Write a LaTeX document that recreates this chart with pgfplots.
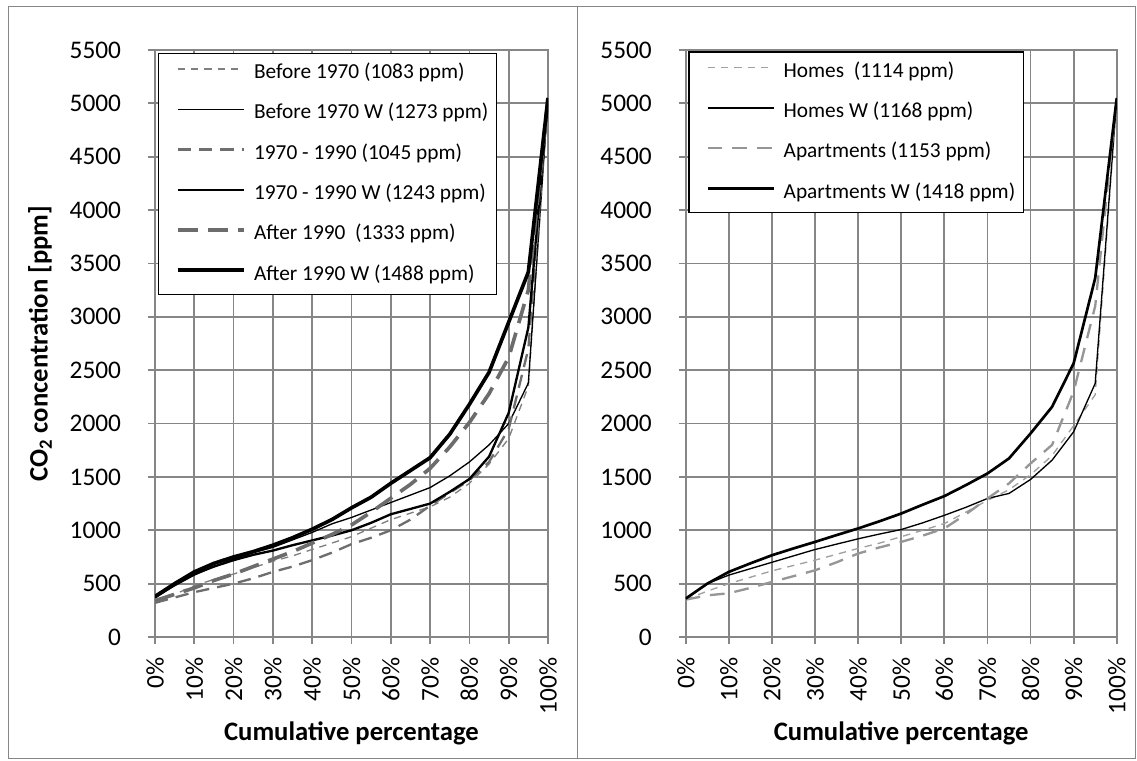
\documentclass[border=0pt]{standalone}
\usepackage{fontspec}
\setmainfont{Carlito}
\usepackage{pgfplots}
\usepackage{pgfplotstable}
\pgfplotsset{compat=1.18}

\definecolor{gridgray}{RGB}{134,134,134}
\definecolor{dashA}{RGB}{128,128,128}
\definecolor{dashB}{RGB}{110,110,110}
\definecolor{dashC}{RGB}{108,108,108}
\definecolor{dashH}{RGB}{160,160,160}
\definecolor{dashP}{RGB}{150,150,150}

% cumulative distributions, values in ppm at every 5 %
\pgfplotstableread{
p   b70   b70w  m70   m70w  a90   a90w
0   330   370   320   370   340   380
5   400   480   370   490   400   500
10  480   580   420   590   460   610
15  540   660   460   660   530   690
20  590   730   500   720   590   750
25  650   790   550   770   660   800
30  710   840   610   810   730   860
35  760   910   660   860   800   930
40  820   980   720   905   880   1010
45  880   1060  790   950   960   1100
50  940   1120  870   1000  1050  1210
55  1020  1190  930   1070  1170  1310
60  1100  1260  1000  1150  1300  1440
65  1160  1330  1100  1200  1430  1560
70  1220  1400  1230  1250  1580  1680
75  1310  1510  1350  1360  1780  1900
80  1440  1640  1470  1480  2010  2180
85  1620  1800  1640  1690  2280  2480
90  1860  2000  1950  2100  2620  2950
95  2350  2380  2700  2900  3250  3420
100 5050  5050  5050  5050  5050  5050
}\agetable

\pgfplotstableread{
p   h     hw    ap    apw
0   350   360   350   360
5   430   500   390   500
10  500   580   410   610
15  560   640   460   690
20  620   700   516   766
25  670   760   570   830
30  720   820   625   891
35  775   870   700   955
40  830   920   782   1017
45  880   965   840   1085
50  940   1007  891   1157
55  1000  1070  950   1240
60  1063  1140  1017  1320
65  1170  1215  1150  1423
70  1280  1298  1298  1532
75  1380  1345  1439  1673
80  1520  1476  1626  1907
85  1700  1657  1800  2157
90  1980  1923  2300  2564
95  2270  2376  3100  3362
100 5050  5050  5050  5050
}\typetable

\pgfplotsset{
  co2/.style={
    scale only axis,
    height=440.25pt,
    xmin=0, xmax=100, ymin=0, ymax=5500,
    xtick={0,10,...,100}, ytick={0,500,...,5500},
    xticklabel={\pgfmathprintnumber{\tick}\%},
    /pgf/number format/assume math mode=true,
    /pgf/number format/1000 sep={},
    grid=major,
    grid style={gridgray, line width=1.3pt},
    axis line style={gridgray, line width=1.3pt},
    tick style={gridgray, line width=1.3pt},
    tick align=outside, major tick length=5.25pt, tick pos=left,
    ticklabel style={font=\fontsize{19}{19}\selectfont},
    yticklabel style={anchor=east, inner sep=0pt, xshift=-20pt},
    xticklabel style={yshift=-10pt, rotate=90, anchor=east, inner sep=0pt},
    label style={font=\fontsize{20}{20}\selectfont\bfseries},
    xlabel={Cumulative percentage},
    legend cell align=left,
    legend image code/.code={\path (0pt,0pt); \draw[##1] (7pt,0.33em) -- (57pt,0.33em);},
    legend style={anchor=north west, draw=black, line width=1pt, fill=white,
      font=\fontsize{16}{16}\selectfont,
      inner xsep=6pt, inner ysep=7.5pt, row sep=15.2pt,
      nodes={inner sep=0pt, text height=11.5pt, text depth=3.5pt},
      /tikz/every odd column/.style={column sep=6pt}},
  }
}

\begin{document}
\begin{tikzpicture}
\path[use as bounding box] (0pt,0pt) rectangle (852.75pt,570pt);
\draw[gridgray, line width=0.75pt] (6pt,1.5pt) rectangle (432.75pt,564.75pt);
\draw[gridgray, line width=0.75pt] (432.75pt,1.5pt) rectangle (851.25pt,564.75pt);

% left: by construction year
\begin{axis}[co2,
  at={(116.25pt,92.25pt)}, anchor=south west,
  width=294.75pt,
  ylabel={CO\textsubscript{2} concentration [ppm]},
  ylabel style={at={(axis description cs:-0.2926,0.5)}, anchor=center},
  xlabel style={at={(axis description cs:0.5,-0.1635)}, anchor=center},
  legend style={at={(axis description cs:0.007,0.9954)}},
]
\addplot[dashA, line width=1pt, dash pattern=on 5.5pt off 4.5pt] table[x=p,y=b70]{\agetable};
\addlegendentry{Before 1970 (1083 ppm)}
\addplot[black, line width=1pt] table[x=p,y=b70w]{\agetable};
\addlegendentry{Before 1970 W (1273 ppm)}
\addplot[dashB, line width=1.75pt, dash pattern=on 10pt off 6pt] table[x=p,y=m70]{\agetable};
\addlegendentry{1970 - 1990 (1045 ppm)}
\addplot[black, line width=1.75pt] table[x=p,y=m70w]{\agetable};
\addlegendentry{1970 - 1990 W (1243 ppm)}
\addplot[dashC, line width=2.75pt, dash pattern=on 15pt off 7.5pt] table[x=p,y=a90]{\agetable};
\addlegendentry{After 1990\ \ (1333 ppm)}
\addplot[black, line width=2.75pt] table[x=p,y=a90w]{\agetable};
\addlegendentry{After 1990 W (1488 ppm)}
\end{axis}

% right: by building type
\begin{axis}[co2,
  at={(514.3pt,92.25pt)}, anchor=south west,
  width=323.25pt,
  xlabel style={at={(axis description cs:0.5,-0.1635)}, anchor=center},
  legend style={at={(axis description cs:0.006,0.9977)}},
]
\addplot[dashH, line width=1pt, dash pattern=on 5.5pt off 4.5pt] table[x=p,y=h]{\typetable};
\addlegendentry{Homes\ \ (1114 ppm)}
\addplot[black, line width=1pt] table[x=p,y=hw]{\typetable};
\addlegendentry{Homes W (1168 ppm)}
\addplot[dashP, line width=1.75pt, dash pattern=on 11pt off 7.5pt] table[x=p,y=ap]{\typetable};
\addlegendentry{Apartments (1153 ppm)}
\addplot[black, line width=2pt] table[x=p,y=apw]{\typetable};
\addlegendentry{Apartments W (1418 ppm)}
\end{axis}
\end{tikzpicture}
\end{document}
